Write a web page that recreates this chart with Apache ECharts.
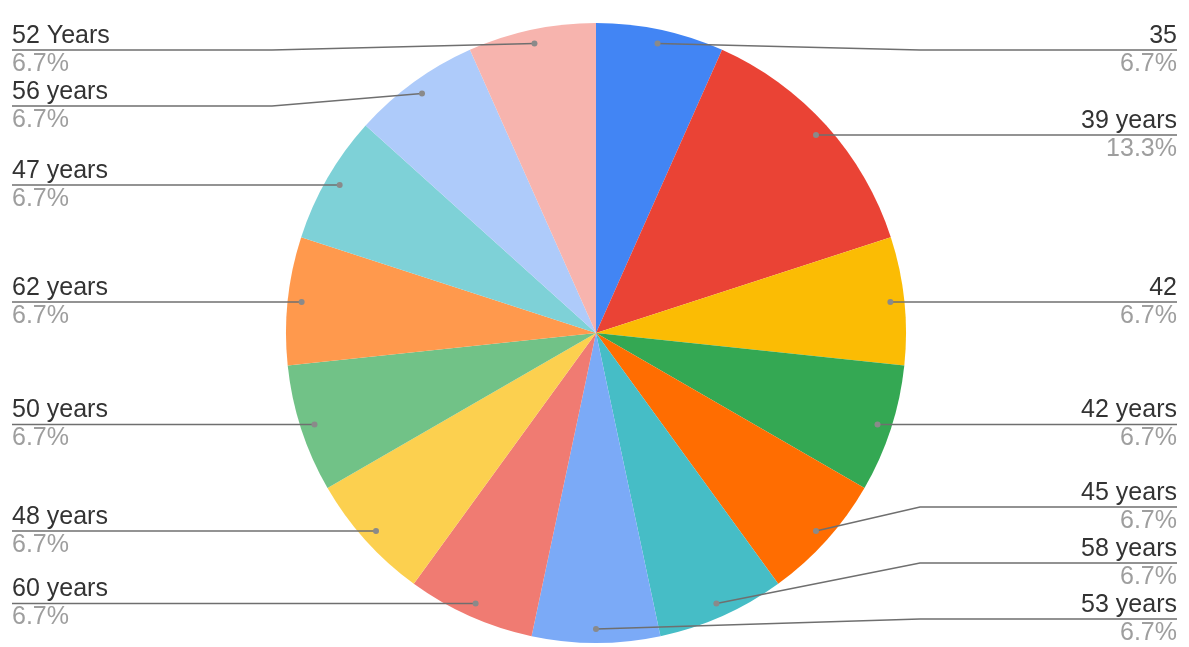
<!DOCTYPE html>
<html><head><meta charset="utf-8">
<script src="https://cdn.jsdelivr.net/npm/echarts@6/dist/echarts.min.js"></script>
<style>html,body{margin:0;padding:0;background:#fff}#c{width:1189px;height:647px}</style>
</head><body><div id="c"></div>
<script>
const categories = ['35','39 years','42','42 years','45 years','58 years','53 years','60 years','48 years','50 years','62 years','47 years','56 years','52 Years'];
const counts = [1,2,1,1,1,1,1,1,1,1,1,1,1,1];
const colors = ['#4285f4','#ea4335','#fbbc04','#34a853','#ff6d01','#46bdc6','#7baaf7','#f07b72','#fcd04f','#71c287','#ff994d','#7ed1d7','#aecbfa','#f7b4ae'];

const W = 1189, H = 647;
const CX = 596, TOP = 22, CY = 333, R = 310, RDOT = 296;
const LINE_H = 28, LABEL_H = 2 * LINE_H;
const FONT = 'Liberation Sans, Arial, sans-serif';

// geometry of each slice's anchor point (mid-angle, clockwise from 12 o'clock)
const total = counts.reduce((a, b) => a + b, 0);
let acc = 0;
const anchors = counts.map(v => {
  const a = (acc + v / 2) / total * Math.PI * 2;
  acc += v;
  return [CX + RDOT * Math.sin(a), CY - RDOT * Math.cos(a)];
});

// simple stacking of labels on each side, pushing neighbours apart
const labelY = new Array(counts.length);
[true, false].forEach(left => {
  const idx = anchors.map((p, i) => i).filter(i => (anchors[i][0] < CX) === left)
    .sort((a, b) => anchors[a][1] - anchors[b][1]);
  const ys = idx.map(i => anchors[i][1]);
  const minY = TOP + LABEL_H / 2, maxY = H - LABEL_H / 2;
  for (let k = 0; k < ys.length; k++) {
    ys[k] = Math.max(ys[k], minY);
    if (k > 0) ys[k] = Math.max(ys[k], ys[k - 1] + LABEL_H);
  }
  for (let k = ys.length - 1; k >= 0; k--) {
    ys[k] = Math.min(ys[k], maxY);
    if (k < ys.length - 1) ys[k] = Math.min(ys[k], ys[k + 1] - LABEL_H);
  }
  idx.forEach((i, k) => { labelY[i] = ys[k]; });
});

const data = categories.map((c, i) => ({ name: c, value: counts[i], itemStyle: { color: colors[i] } }));
const ghost = categories.map((c, i) => ({ name: c, value: counts[i] }));

const chart = echarts.init(document.getElementById('c'), null, { renderer: 'canvas' });
chart.setOption({
  animation: false,
  series: [
    {
      type: 'pie', z: 2, top: TOP, center: [CX, CY - TOP], radius: R, startAngle: 90,
      silent: true, label: { show: false }, labelLine: { show: false },
      itemStyle: { borderWidth: 0 }, data: data
    },
    {
      type: 'pie', z: 5, top: TOP, center: [CX, CY - TOP], radius: RDOT, startAngle: 90,
      silent: true, itemStyle: { color: 'transparent', borderWidth: 0 },
      label: {
        show: true, position: 'outer', alignTo: 'edge', edgeDistance: 12,
        fontFamily: FONT,
        formatter: p => '{n|' + p.name + '}\n{p|' + p.percent.toFixed(1) + '%}',
        rich: {
          n: { fontSize: 25, lineHeight: LINE_H, color: '#333333', fontFamily: FONT },
          p: { fontSize: 25, lineHeight: LINE_H, color: '#9e9e9e', fontFamily: FONT }
        }
      },
      labelLine: { show: true, showAbove: true, length: 0, length2: 0, lineStyle: { color: '#6f6f6f', width: 1.5 } },
      labelLayout: function (params) {
        const i = params.dataIndex;
        const r = params.labelRect;
        const isLeft = anchors[i][0] < CX;
        const y = labelY[i];
        const bendX = isLeft ? CX - R - 14 : CX + R + 14;
        const pts = [
          [anchors[i][0], anchors[i][1]],
          [bendX, y],
          [isLeft ? r.x : r.x + r.width, y]
        ];
        return { y: y, labelLinePoints: pts };
      },
      data: ghost
    },
    {
      type: 'pie', z: 6, top: TOP, center: [CX, CY - TOP], radius: [RDOT - 7, RDOT + 1], startAngle: 90,
      silent: true, avoidLabelOverlap: false, itemStyle: { color: 'transparent', borderWidth: 0 },
      label: {
        show: true, position: 'inside', formatter: '{a| }',
        rich: { a: { width: 6, height: 6, borderRadius: 3, backgroundColor: '#8a8a8a' } }
      },
      labelLine: { show: false },
      data: ghost
    }
  ]
});
</script></body></html>
